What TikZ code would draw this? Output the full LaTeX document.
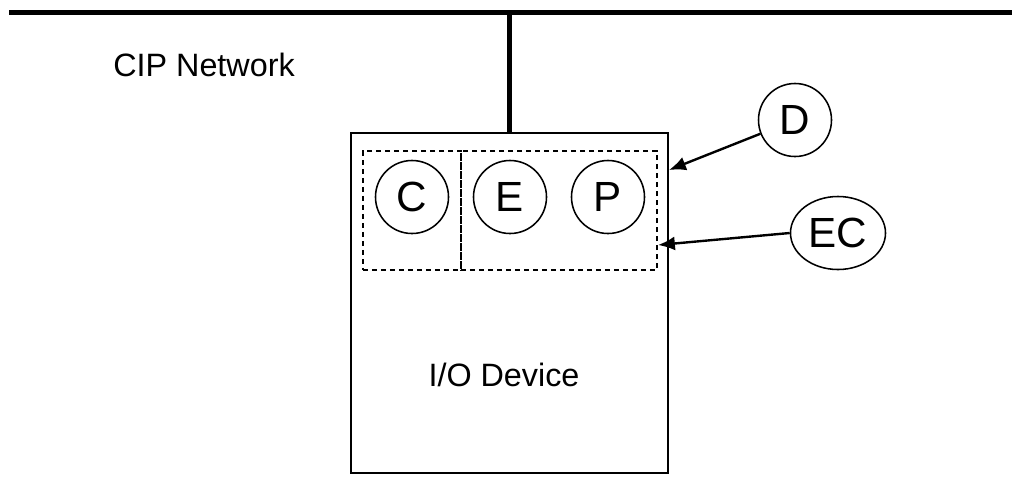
\documentclass[tikz,border=0pt]{standalone}
\usepackage{fontspec}
\setmainfont{Liberation Sans}
\usetikzlibrary{shapes.geometric,arrows.meta}

\begin{document}
\begin{tikzpicture}[x=0.025cm,y=-0.025cm,
	obj/.style={draw,circle,line width=1.1pt,minimum size=1.825cm,inner sep=0pt,font=\fontsize{30}{34}\selectfont},
	part/.style={draw,dashed,dash pattern=on 3.8pt off 2.6pt,line width=1.2pt,inner sep=0pt,outer sep=0pt,minimum height=2.975cm},
	pointer/.style={line width=1.7pt,-{Latex[length=12pt,width=10pt]}}]
	\useasboundingbox (0,0) rectangle (1012,476);
	% bus
	\coordinate (busl) at (9,12.5);
	\coordinate (busr) at (1012,12.5);
	\draw[line width=3pt] (busl) -- (busr);
	\node[font=\fontsize{23}{27}\selectfont,anchor=base west,inner sep=0pt] (net) at (113,76) {CIP Network};
	% device
	\node[draw,line width=1.1pt,minimum width=7.925cm,minimum height=8.5cm,inner sep=0pt,outer sep=0pt] (dev) at (509.5,303) {};
	\draw[line width=3pt] (dev.north) -- (dev.north |- busl);
	\node[font=\fontsize{23}{27}\selectfont] (devlabel) at (504,375) {I/O Device};
	\node[part,minimum width=2.45cm] (cbox) at (412,210.5) {};
	\node[part,minimum width=4.9cm] (ecbox) at (559,210.5) {};
	\node[obj] (c) at (412,197) {C};
	\node[obj] (e) at (510,197) {E};
	\node[obj] (p) at (608,197) {P};
	% callouts
	\node[obj] (d) at (795,120) {D};
	\node[obj,ellipse,minimum width=2.375cm,minimum height=1.825cm] (ec) at (838,233) {EC};
	\coordinate (dtip) at (669,170);
	\coordinate (ectip) at (658,245);
	\draw[pointer] (d) -- (dtip);
	\draw[pointer] (ec.west) -- (ectip);
\end{tikzpicture}
\end{document}
